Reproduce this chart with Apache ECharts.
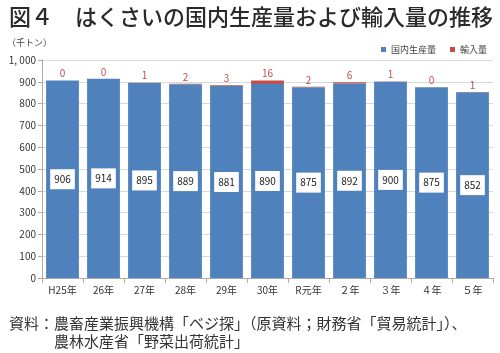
<!DOCTYPE html>
<html><head><meta charset="utf-8">
<script src="https://cdn.jsdelivr.net/npm/echarts@6/dist/echarts.min.js"></script>
<style>html,body{margin:0;padding:0;background:#fff}#c{width:500px;height:353px}</style>
</head><body><div id="c"></div>
<script>
const categories = ['H25年','26年','27年','28年','29年','30年','R元年','２年','３年','４年','５年'];
const domestic = [906,914,895,889,881,890,875,892,900,875,852];
const imports = [0,0,1,2,3,16,2,6,1,0,1];
const yTicks = [0,100,200,300,400,500,600,700,800,900,1000];
const FONT = '"Noto Sans CJK JP", "Noto Sans", sans-serif';
const chart = echarts.init(document.getElementById('c'));
chart.setOption({
  animation: false,
  textStyle: {fontFamily: FONT},
  title: [
    {text: '図４　はくさいの国内生産量および輸入量の推移', left: 4, top: 1,
     textStyle: {fontSize: 22, fontWeight: 500, color: '#2a2a2a', fontFamily: FONT}},
    {text: '（千トン）', left: 2, top: 33, textStyle: {fontSize: 9, fontWeight: 'normal', color: '#444', fontFamily: FONT}},
    {text: '資料：農畜産業振興機構「ベジ探」（原資料；財務省「貿易統計」）、\n　　　農林水産省「野菜出荷統計」', left: 4, top: 309,
     textStyle: {fontSize: 15, fontWeight: 'normal', color: '#333', lineHeight: 18, fontFamily: FONT}}
  ],
  legend: {right: 8, top: 40, itemWidth: 5, itemHeight: 5, itemGap: 14, icon: 'rect',
    textStyle: {fontSize: 9, color: '#444', fontFamily: FONT},
    data: ['国内生産量','輸入量']},
  grid: {left: 42, right: 7, top: 60, bottom: 75, containLabel: false},
  xAxis: {type: 'category', data: categories,
    axisLine: {lineStyle: {color: '#aaa'}},
    axisTick: {show: true, lineStyle: {color: '#aaa'}},
    axisLabel: {fontSize: 10, color: '#333', margin: 7}},
  yAxis: {type: 'value', min: 0, max: 1000, interval: 100,
    axisLine: {show: true, lineStyle: {color: '#aaa'}},
    axisTick: {show: true, lineStyle: {color: '#aaa'}, length: 4},
    splitLine: {lineStyle: {color: '#d9d9d9'}},
    axisLabel: {fontSize: 10, color: '#333', margin: 6,
      formatter: v => yTicks.includes(v) ? (v >= 1000 ? '1, 000' : String(v)) : ''}},
  series: [
    {name: '国内生産量', type: 'bar', stack: 't', data: domestic, barCategoryGap: '20%',
     itemStyle: {color: '#4F81BD'},
     label: {show: true, position: 'inside', color: '#222', fontSize: 10, backgroundColor: '#fff', padding: [5, 4]}},
    {name: '輸入量', type: 'bar', stack: 't', data: imports,
     itemStyle: {color: '#C0504D'},
     label: {show: true, position: 'top', color: '#C0504D', fontSize: 10, distance: 2}}
  ]
});
</script></body></html>
